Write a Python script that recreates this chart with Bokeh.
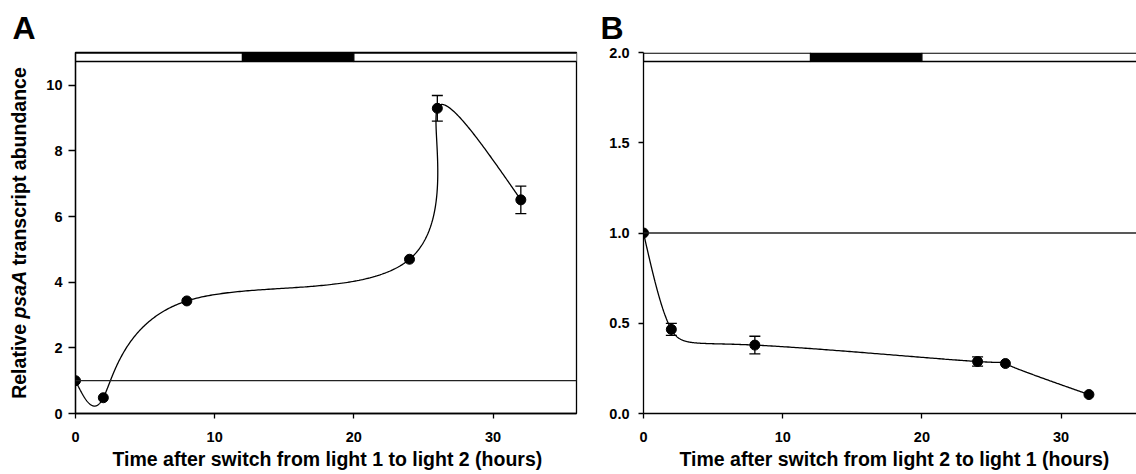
import numpy as np
from bokeh.plotting import figure
from bokeh.models import (Range1d, FixedTicker, Label, Whisker, TeeHead, Title,
                          ColumnDataSource, Span, NumeralTickFormatter)
from bokeh.layouts import row
from bokeh.embed import file_html
from bokeh.resources import INLINE

# ---------------- data ----------------
hours_a = [0, 2, 8, 24, 26, 32]
abund_a = [1.0, 0.48, 3.43, 4.70, 9.30, 6.51]
err_a = [0, 0, 0, 0, 0.39, 0.42]

hours_b = [0, 2, 8, 24, 26, 32]
abund_b = [1.0, 0.466, 0.379, 0.288, 0.277, 0.105]
err_b = [0, 0.033, 0.049, 0.026, 0, 0]

dark_start, dark_end = 12, 20
baseline = 1.0
x_ticks = [0, 10, 20, 30]
y_ticks_a = [0, 2, 4, 6, 8, 10]
y_ticks_b = [0, 0.5, 1.0, 1.5, 2.0]

title_a = "A"
title_b = "B"
xlabel_a = "Time after switch from light 1 to light 2 (hours)"
xlabel_b = "Time after switch from light 2 to light 1 (hours)"
ylabel_parts = ["Relative", "psaA", "transcript abundance"]

FONT = "Liberation Sans"
H = 474
TOP, BOTTOM = 52, 61   # borders around the plotting frames


def natural_uniform(y, n_per=120):
    """Natural cubic spline on a uniform parameter (one unit per data interval)."""
    y = np.asarray(y, float)
    n = len(y)
    A = np.zeros((n, n))
    b = np.zeros(n)
    A[0, 0] = 1
    A[-1, -1] = 1
    for i in range(1, n - 1):
        A[i, i - 1] = 1
        A[i, i] = 4
        A[i, i + 1] = 1
        b[i] = 6 * (y[i + 1] - 2 * y[i] + y[i - 1])
    M = np.linalg.solve(A, b)
    tt = np.linspace(0, n - 1, (n - 1) * n_per + 1)
    idx = np.clip(np.floor(tt).astype(int), 0, n - 2)
    bb = tt - idx
    a = 1 - bb
    return a * y[idx] + bb * y[idx + 1] + ((a ** 3 - a) * M[idx] + (bb ** 3 - bb) * M[idx + 1]) / 6


def style_axes(p, ytick_len, ystand):
    for ax in p.xaxis + p.yaxis:
        ax.axis_line_color = "black"
        ax.axis_line_width = 1.3
        ax.major_tick_line_color = "black"
        ax.major_tick_line_width = 1.3
        ax.major_tick_in = 0
        ax.minor_tick_line_color = None
        ax.major_label_text_font = FONT
        ax.major_label_text_font_style = "bold"
        ax.major_label_text_font_size = "14.5px"
        ax.major_label_text_color = "black"
    p.xaxis.major_tick_out = 5
    p.xaxis.major_label_standoff = 13
    p.yaxis.major_tick_out = ytick_len
    p.yaxis.major_label_standoff = ystand
    p.xaxis.ticker = FixedTicker(ticks=x_ticks)
    p.grid.visible = False


def letter_title(letter, offset):
    return Title(text=letter, align="left", offset=offset, text_font=FONT,
                 text_font_style="bold", text_font_size="32px", standoff=14,
                 text_color="black")


def make_panel(width, mb_left, mb_right, x_end, y_end, sy, hours, vals, errs,
               yticks, ytick_len, ystand, outline, letter, letter_off, xlabel, xlabel_off):
    p = figure(width=width, height=H, x_range=Range1d(0, x_end), y_range=Range1d(0, y_end),
               output_backend="svg", toolbar_location=None, title=None,
               min_border_left=mb_left, min_border_right=mb_right,
               min_border_top=TOP, min_border_bottom=BOTTOM)
    p.outline_line_color = "black" if outline else None
    p.outline_line_width = 1.3
    style_axes(p, ytick_len, ystand)
    p.yaxis.ticker = FixedTicker(ticks=yticks)

    # light/dark strip at the top
    top = y_end - 0.6 / sy
    bot = y_end - 9.0 / sy
    p.quad(left=[0, dark_start, dark_end], right=[dark_start, dark_end, x_end + 10],
           bottom=bot, top=top, fill_color=["white", "black", "white"],
           line_color="black", line_width=1.3)

    # baseline
    p.add_layout(Span(location=baseline, dimension="width", line_color="#222222", line_width=1.3))

    # spline curve (uniform-parameter natural cubic spline through the points)
    cx, cy = natural_uniform(hours), natural_uniform(vals)
    p.line(cx, cy, line_color="black", line_width=1.3)

    # error bars
    ex = [h for h, e in zip(hours, errs) if e > 0]
    ev = [v for v, e in zip(vals, errs) if e > 0]
    ee = [e for e in errs if e > 0]
    src = ColumnDataSource(dict(x=ex, upper=[v + e for v, e in zip(ev, ee)],
                                lower=[v - e for v, e in zip(ev, ee)]))
    p.add_layout(Whisker(source=src, base="x", upper="upper", lower="lower",
                         line_color="black", line_width=1.3,
                         upper_head=TeeHead(size=11, line_color="black", line_width=1.3),
                         lower_head=TeeHead(size=11, line_color="black", line_width=1.3)))

    p.scatter(hours, vals, size=10, fill_color="black", line_color="black")

    if letter:
        p.add_layout(letter_title(letter, letter_off), "above")
    p.add_layout(Title(text=xlabel, align="left", offset=xlabel_off, text_font=FONT,
                       text_font_style="bold", text_font_size="19.5px", standoff=3,
                       text_color="black"), "below")
    return p


# left strip: panel letter A and rotated y-axis label (text only).
# Its frame has the same vertical borders as the panels; y here is measured in
# pixels up from the bottom of the canvas.
ylab_w = 36
py = figure(width=ylab_w, height=H, x_range=Range1d(0, ylab_w), y_range=Range1d(BOTTOM, H - TOP),
            output_backend="svg", toolbar_location=None, x_axis_location=None,
            y_axis_location=None, min_border_left=0, min_border_right=0,
            min_border_top=TOP, min_border_bottom=BOTTOM, title=None)
py.outline_line_color = None
py.grid.visible = False
py.add_layout(letter_title(title_a, 12), "above")

fs = 19.5
sp = 278 / 1000 * fs
w1 = (722 + 556 + 278 + 556 + 333 + 278 + 556 + 556) / 1000 * fs
w2 = (611 + 556 + 556 + 722) / 1000 * fs
w3 = (4612 + 278 + 5279) / 1000 * fs
total = w1 + sp + w2 + sp + w3
start = (H - 232.5) - total / 2
centers = [start + w1 / 2, start + w1 + sp + w2 / 2, start + w1 + sp + w2 + sp + w3 / 2]
styles = ["bold", "bold italic", "bold"]
for txt, yc, st in zip(ylabel_parts, centers, styles):
    py.add_layout(Label(x=18, y=yc, text=txt, text_font=FONT, text_font_style=st,
                        text_font_size="19.5px", angle=np.pi / 2, text_align="center",
                        text_baseline="middle", text_color="black"))

# Panel A : frame 75 .. 576
sya = 32.8
pa = make_panel(596 - ylab_w, 39, 20, 36, 11, sya, hours_a, abund_a, err_a, y_ticks_a, 7, 6,
                True, None, 0, xlabel_a, 37)
# Panel B : frame starts at 643, same x scale as A, cropped at the page edge
sxb, syb = 13.92, 180.4
x_end_b = (1136 - 643) / sxb
pb = make_panel(1136 - 596, 47, 0, x_end_b, 2.0, syb, hours_b, abund_b, err_b, y_ticks_b, 5, 9,
                False, title_b, -43, xlabel_b, 36)
pb.yaxis.formatter = NumeralTickFormatter(format="0.0")

layout = row(py, pa, pb)
open("out.html", "w").write(file_html(layout, INLINE))
